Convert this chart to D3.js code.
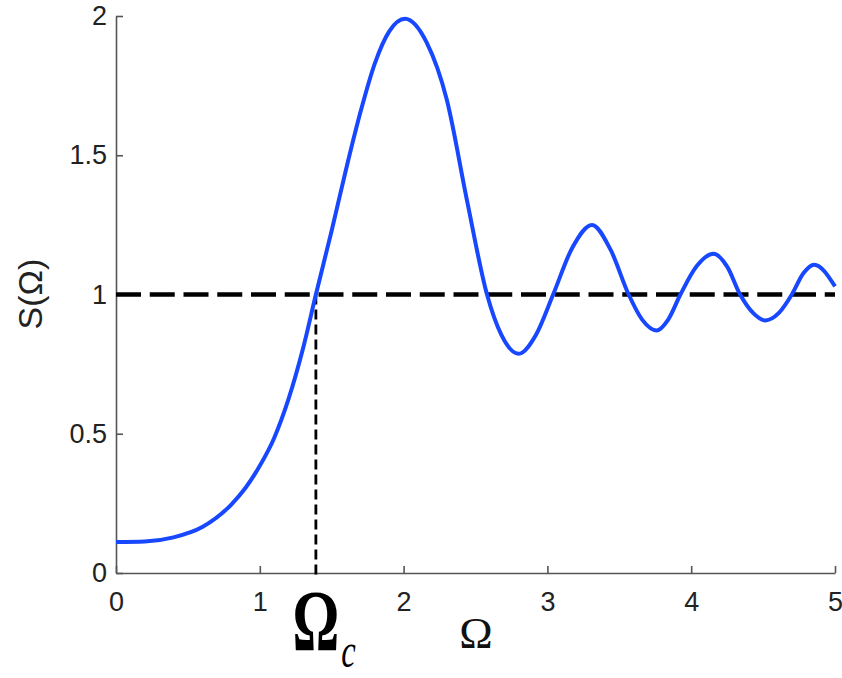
<!DOCTYPE html>
<html>
<head>
<meta charset="utf-8">
<script src="https://cdn.jsdelivr.net/npm/d3@7"></script>
<style>
  html, body { margin: 0; padding: 0; background: #ffffff; }
  svg { display: block; }
</style>
</head>
<body>
<script>
// Structure factor S(Ω): sampled values along the frequency axis
const omega = [0, 0.2, 0.4, 0.6, 0.8, 0.9, 1.0, 1.1, 1.2, 1.3, 1.39, 1.5, 1.6, 1.7, 1.8, 1.9, 2.01,
               2.16, 2.3, 2.44, 2.58, 2.68, 2.8, 2.92, 3.04, 3.175, 3.31, 3.44, 3.565, 3.66, 3.76,
               3.84, 3.925, 4.04, 4.155, 4.25, 4.34, 4.43, 4.515, 4.61, 4.7, 4.78, 4.855, 5.0];
const sOmega = [0.111, 0.113, 0.128, 0.165, 0.245, 0.305, 0.385, 0.485, 0.625, 0.805, 1.0, 1.23, 1.45, 1.655, 1.83, 1.945, 1.99,
                1.905, 1.70, 1.34, 1.0, 0.855, 0.787, 0.855, 1.0, 1.17, 1.25, 1.16, 1.0, 0.909, 0.871,
                0.91, 1.0, 1.103, 1.146, 1.10, 1.0, 0.934, 0.907, 0.934, 1.0, 1.076, 1.107, 1.029];

const xTicks = [0, 1, 2, 3, 4, 5];
const yTicks = [0, 0.5, 1, 1.5, 2];
const yTickLabels = ["0", "0.5", "1", "1.5", "2"];

const omegaC = 1.39;   // critical frequency where S(Ω) first reaches 1
const unity = 1;

const W = 842, H = 678;
const margin = { left: 116, top: 16, right: 7, bottom: 105 };
const innerW = W - margin.left - margin.right;
const innerH = H - margin.top - margin.bottom;

const svg = d3.select("body").append("svg")
  .attr("width", W).attr("height", H);

const g = svg.append("g").attr("transform", `translate(${margin.left},${margin.top})`);

const x = d3.scaleLinear().domain([0, 5]).range([0, innerW]);
const y = d3.scaleLinear().domain([0, 2]).range([innerH, 0]);

// Axes: left and bottom only, ticks pointing inward
const tickFont = "'Liberation Sans', Arial, Helvetica, sans-serif";
const axisColor = "#555";

const xAxis = g.append("g")
  .attr("transform", `translate(0,${innerH})`)
  .call(d3.axisBottom(x).tickValues(xTicks).tickFormat(d3.format("d"))
        .tickSizeInner(-7).tickSizeOuter(0).tickPadding(19));

const yAxis = g.append("g")
  .call(d3.axisLeft(y).tickValues(yTicks).tickFormat((d, i) => yTickLabels[i])
        .tickSizeInner(-7).tickSizeOuter(0).tickPadding(9));

[xAxis, yAxis].forEach(ax => {
  ax.select(".domain").attr("stroke", axisColor).attr("stroke-width", 1.6);
  ax.selectAll(".tick line").attr("stroke", axisColor).attr("stroke-width", 1.6);
  ax.selectAll(".tick text")
    .attr("fill", "#222")
    .style("font-family", tickFont)
    .style("font-size", "27px");
});

// Reference level S = 1
g.append("line")
  .attr("x1", x(0)).attr("x2", x(5))
  .attr("y1", y(unity)).attr("y2", y(unity))
  .attr("stroke", "#000").attr("stroke-width", 4.5)
  .attr("stroke-dasharray", "25 8.75");

// Drop line from the first crossing down to the frequency axis
g.append("line")
  .attr("x1", x(omegaC)).attr("x2", x(omegaC))
  .attr("y1", y(unity)).attr("y2", y(-0.018))
  .attr("stroke", "#000").attr("stroke-width", 2.8)
  .attr("stroke-dasharray", "10 5");

// S(Ω) curve
const line = d3.line()
  .x((d, i) => x(omega[i]))
  .y(d => y(d))
  .curve(d3.curveMonotoneX);

g.append("path")
  .attr("d", line(sOmega))
  .attr("fill", "none")
  .attr("stroke", "#1747ff")
  .attr("stroke-width", 4)
  .attr("stroke-linejoin", "round");

// Axis titles
svg.append("text")
  .attr("transform", `translate(42,294) rotate(-90)`)
  .attr("text-anchor", "middle")
  .style("font-family", tickFont)
  .style("font-size", "34px")
  .attr("fill", "#222")
  .text("S(Ω)");

svg.append("text")
  .attr("x", 476).attr("y", 648)
  .attr("text-anchor", "middle")
  .style("font-family", "'Liberation Serif', 'Times New Roman', serif")
  .style("font-size", "45px")
  .attr("fill", "#111")
  .text("Ω");

// Ω_c marker under the drop line
const oc = svg.append("g")
  .attr("transform", `translate(${margin.left + x(omegaC)},650) scale(0.68,1)`);
oc.append("text")
  .attr("x", 0).attr("y", 0)
  .attr("text-anchor", "middle")
  .style("font-family", "'Liberation Serif', 'Times New Roman', serif")
  .style("font-size", "86px")
  .style("font-weight", "bold")
  .attr("fill", "#000")
  .text("Ω");
oc.append("text")
  .attr("x", 48).attr("y", 17)
  .attr("text-anchor", "middle")
  .style("font-family", "'Liberation Serif', 'Times New Roman', serif")
  .style("font-size", "48px")
  .style("font-style", "italic")
  .attr("fill", "#000")
  .text("c");
</script>
</body>
</html>
